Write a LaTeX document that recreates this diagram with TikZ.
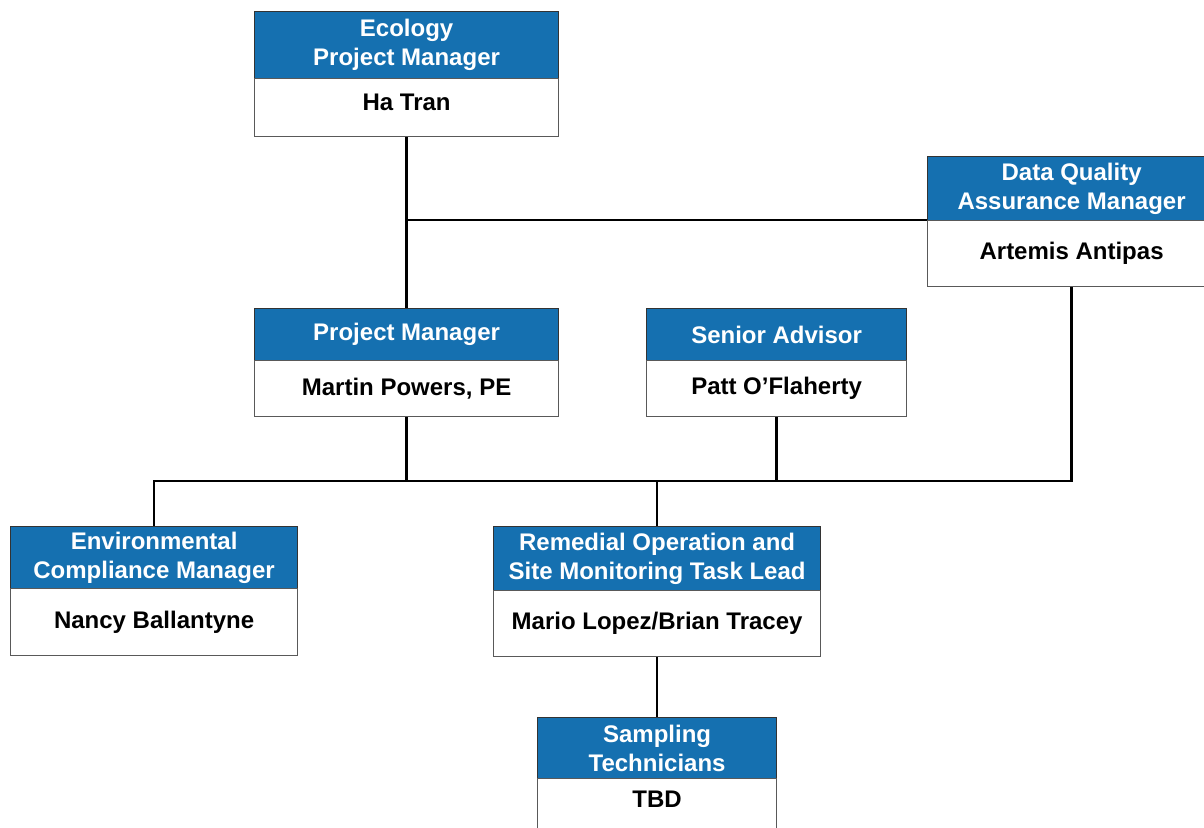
\documentclass[tikz,border=0pt]{standalone}
\usepackage{fontspec}
\setmainfont{Liberation Sans}
\definecolor{hdr}{HTML}{1570B0}
\tikzset{
  boxfont/.style={font=\bfseries\fontsize{24}{29}\selectfont},
  hbox/.style={draw=black!80, line width=1.2pt, fill=hdr, text=white, boxfont, align=center, anchor=north west, inner sep=0pt},
  bbox/.style={draw=black!65, line width=1.2pt, fill=white, text=black, boxfont, align=center, anchor=north west, inner sep=0pt},
  conn/.style={line width=2.5pt, black}
}
\begin{document}
\begin{tikzpicture}[x=1pt,y=-1pt]
\useasboundingbox (0,0) rectangle (1204,827);
\clip (0,0) rectangle (1204,827);
% Ecology PM
\node[hbox, minimum width=304pt, minimum height=67pt] (eco-h) at (254,11) {Ecology\\Project Manager};
\node[bbox, minimum width=304pt, minimum height=58pt, text height=17pt, text depth=12pt] (eco-b) at (254,78) {Ha Tran};
% Data Quality
\node[hbox, minimum width=288pt, minimum height=64pt] (dq-h) at (927,156) {Data Quality\\Assurance Manager};
\node[bbox, minimum width=288pt, minimum height=66pt] (dq-b) at (927,220) {Artemis Antipas};
% Project Manager
\node[hbox, minimum width=304pt, minimum height=52pt] (pm-h) at (254,308) {Project Manager};
\node[bbox, minimum width=304pt, minimum height=56pt] (pm-b) at (254,360) {Martin Powers, PE};
% Senior Advisor
\node[hbox, minimum width=260pt, minimum height=52pt] (sa-h) at (646,308) {Senior Advisor};
\node[bbox, minimum width=260pt, minimum height=56pt] (sa-b) at (646,360) {Patt O’Flaherty};
% Environmental Compliance
\node[hbox, minimum width=287pt, minimum height=62pt] (ec-h) at (10,526) {Environmental\\Compliance Manager};
\node[bbox, minimum width=287pt, minimum height=67pt] (ec-b) at (10,588) {Nancy Ballantyne};
% Remedial
\node[hbox, minimum width=327pt, minimum height=64pt] (rem-h) at (493,526) {Remedial Operation and\\Site Monitoring Task Lead};
\node[bbox, minimum width=327pt, minimum height=66pt] (rem-b) at (493,590) {Mario Lopez/Brian Tracey};
% Sampling
\node[hbox, minimum width=239pt, minimum height=61pt] (st-h) at (537,717) {Sampling\\Technicians};
\node[bbox, minimum width=239pt, minimum height=62pt, text height=17pt, text depth=21pt] (st-b) at (537,778) {TBD};
% connectors
\coordinate (bus) at (0,481);
\draw[conn] (eco-b.south) -- (pm-h.north);
\draw[conn] (dq-b.north west) -- (dq-b.north west -| eco-b.south);
\draw[conn] (pm-b.south) -- (pm-b.south |- bus);
\draw[conn] (sa-b.south) -- (sa-b.south |- bus);
\draw[conn] (dq-b.south) -- (dq-b.south |- bus) -- (ec-h.north |- bus) -- (ec-h.north);
\draw[conn] (rem-h.north) -- (rem-h.north |- bus);
\draw[conn] (rem-b.south) -- (st-h.north);
\end{tikzpicture}
\end{document}
